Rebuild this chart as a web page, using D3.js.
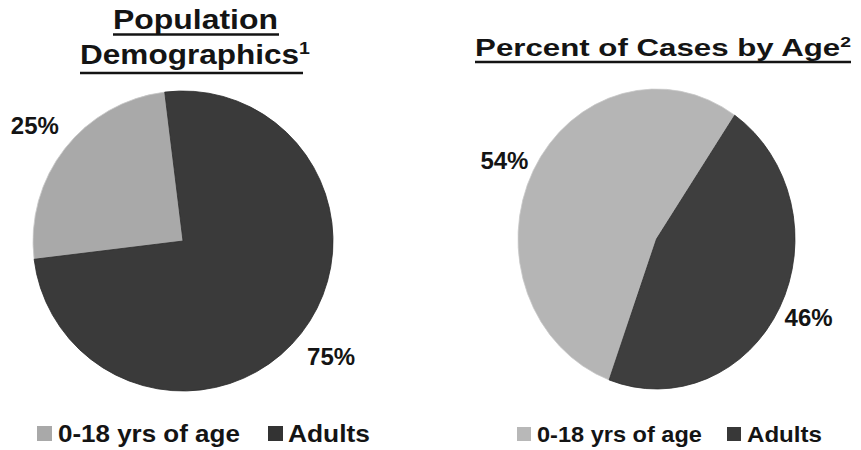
<!DOCTYPE html>
<html>
<head>
<meta charset="utf-8">
<script src="https://cdn.jsdelivr.net/npm/d3@7"></script>
<style>
  html, body { margin: 0; padding: 0; background: #fff; }
  text { font-family: "Liberation Sans", Arial, sans-serif; font-weight: bold; fill: #141414; }
</style>
</head>
<body>
<script>
// ---- data ----
const categories = ["0-18 yrs of age", "Adults"];
const populationValues = [25, 75];
const casesValues = [54, 46];
const titleLeftLines = ["Population", "Demographics"];
const titleLeftSup = "1";
const titleRight = "Percent of Cases by Age";
const titleRightSup = "2";

// ---- layout ----
const W = 861, H = 450;
const svg = d3.select("body").append("svg").attr("width", W).attr("height", H);
svg.append("rect").attr("width", W).attr("height", H).attr("fill", "#fff");

const deg = Math.PI / 180;

function stretchText(g, textSel, targetWidth) {
  const w = textSel.node().getBBox().width;
  const s = targetWidth / w;
  const t = g.attr("data-base");
  g.attr("transform", t + ` scale(${s},1)`);
}

function underline(y, x0, x1) {
  svg.append("line").attr("x1", x0).attr("x2", x1).attr("y1", y).attr("y2", y)
    .attr("stroke", "#141414").attr("stroke-width", 2.4);
}

function titleLine(cx, baseline, str, sup, size, targetWidth, ulY, ulX0, ulX1) {
  const g = svg.append("g").attr("data-base", `translate(${cx},${baseline})`)
    .attr("transform", `translate(${cx},${baseline})`);
  const t = g.append("text").attr("text-anchor", "middle").attr("font-size", size);
  t.append("tspan").text(str);
  if (sup) t.append("tspan").attr("font-size", size * 0.62).attr("dy", -size * 0.36).text(sup);
  stretchText(g, t, targetWidth);
  underline(ulY, ulX0, ulX1);
}

// Titles
titleLine(195.5, 28.5, titleLeftLines[0], null, 27, 165, 34.5, 113, 279);
titleLine(195, 63.5, titleLeftLines[1], titleLeftSup, 27, 230, 73, 80, 303);
titleLine(663, 55.5, titleRight, titleRightSup, 24.5, 376, 62, 475, 851);

// Pies
function drawPie(values, cx, cy, r, xScale, startDeg, colors, labelR) {
  const pie = d3.pie().sort(null).startAngle(startDeg * deg).endAngle(startDeg * deg + 2 * Math.PI);
  const arcs = pie(values);
  const arc = d3.arc().innerRadius(0).outerRadius(r);
  const g = svg.append("g").attr("transform", `translate(${cx},${cy}) scale(${xScale},1)`);
  g.selectAll("path").data(arcs).join("path")
    .attr("d", arc)
    .attr("fill", (d, i) => colors[i])
    .attr("stroke", (d, i) => i === 0 ? "#c8c8c8" : "#2a2a2a")
    .attr("stroke-width", 0.8);
  const lab = d3.arc().innerRadius(labelR).outerRadius(labelR);
  svg.selectAll(null).data(arcs).enter().append("text")
    .attr("text-anchor", "middle")
    .attr("font-size", 24)
    .attr("x", d => cx + lab.centroid(d)[0])
    .attr("y", d => cy + lab.centroid(d)[1] + 8.5)
    .text(d => d.value + "%");
}

drawPie(populationValues, 183, 241, 150, 1, -97, ["#a9a9a9", "#3a3a3a"], 188);
drawPie(casesValues, 656.5, 239, 150, 138.5 / 150, -160, ["#b5b5b5", "#3e3e3e"], 171);

// Legends
function legend(items, colors, swX, swY, swS, txX, baseline, size, widths) {
  items.forEach((name, i) => {
    svg.append("rect").attr("x", swX[i]).attr("y", swY).attr("width", swS).attr("height", swS)
      .attr("fill", colors[i]);
    const g = svg.append("g").attr("data-base", `translate(${txX[i]},${baseline})`)
      .attr("transform", `translate(${txX[i]},${baseline})`);
    const t = g.append("text").attr("font-size", size).text(name);
    stretchText(g, t, widths[i]);
  });
}
legend(categories, ["#a9a9a9", "#333333"], [37, 268], 426, 15, [58, 288], 441.5, 23, [182, 82]);
legend(categories, ["#b8b8b8", "#383838"], [517, 727], 427, 14, [537, 747], 441.5, 22, [165, 75]);
</script>
</body>
</html>
